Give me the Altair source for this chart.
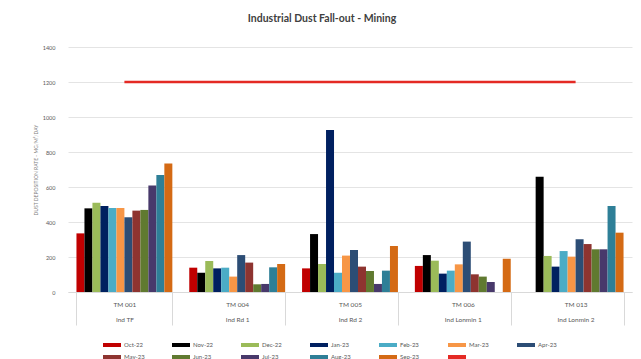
import altair as alt
import pandas as pd

sites = ["TM 001", "TM 004", "TM 005", "TM 006", "TM 013"]
areas = ["Ind TF", "Ind Rd 1", "Ind Rd 2", "Ind Lonmin 1", "Ind Lonmin 2"]
months = ["Oct-22", "Nov-22", "Dec-22", "Jan-23", "Feb-23", "Mar-23",
          "Apr-23", "May-23", "Jun-23", "Jul-23", "Aug-23", "Sep-23"]
colors = ["#C00000", "#000000", "#9BBB59", "#002060", "#4BACC6", "#F79646",
          "#2C4D75", "#8E3430", "#607A30", "#48396B", "#2E7F97", "#D46A14"]

oct_22 = [335, 139, 135, 149, None]
nov_22 = [478, 110, 331, 211, 659]
dec_22 = [510, 177, 160, 179, 206]
jan_23 = [491, 135, 926, 105, 145]
feb_23 = [480, 139, 110, 122, 234]
mar_23 = [480, 88, 208, 158, 202]
apr_23 = [427, 211, 240, 288, 301]
may_23 = [465, 168, 145, 101, 274]
jun_23 = [469, 44, 120, 88, 244]
jul_23 = [608, 46, 46, 57, 244]
aug_23 = [669, 141, 122, None, 491]
sep_23 = [735, 160, 263, 190, 339]

limit = [1200, 1200, 1200, 1200, 1200]
limit_label = " "
limit_color = "#E42A24"

series = [oct_22, nov_22, dec_22, jan_23, feb_23, mar_23,
          apr_23, may_23, jun_23, jul_23, aug_23, sep_23]

cats = [s + "|" + a for s, a in zip(sites, areas)]

rows = []
for m, vals in zip(months, series):
    for c, v in zip(cats, vals):
        if v is not None:
            rows.append({"cat": c, "month": m, "value": v})
bars_df = pd.DataFrame(rows)
line_df = pd.DataFrame({"cat": cats, "month": [limit_label] * len(cats), "value": limit})

FONT = "Lato"

x_enc = alt.X(
    "cat:N", sort=cats,
    scale=alt.Scale(paddingInner=0.15, paddingOuter=0.075),
    axis=alt.Axis(
        title=None, labelExpr="split(datum.label, '|')", labelAngle=0,
        tickBand="extent", tickSize=33, tickColor="#D9D9D9", tickWidth=1,
        domainColor="#D9D9D9", labelPadding=-24, labelBaseline="top",
        labelLineHeight=15, labelFontSize=6.5, labelColor="#595959", labelFont=FONT,
    ),
)
y_enc = alt.Y(
    "value:Q",
    scale=alt.Scale(domain=[0, 1400], nice=False),
    axis=alt.Axis(
        values=[0, 200, 400, 600, 800, 1000, 1200, 1400], format="d",
        title="DUST DEPOSITION RATE - MG/M²/DAY", titleFontSize=5,
        titleFontWeight="normal", titleColor="#7F7F7F", titleFont=FONT,
        labelFontSize=5.5, labelColor="#595959", labelFont=FONT,
        ticks=False, domain=False, gridColor="#DDDDDD", gridWidth=0.8,
        labelPadding=13, titlePadding=4,
    ),
)
color_enc = alt.Color(
    "month:N",
    scale=alt.Scale(domain=months + [limit_label], range=colors + [limit_color]),
    legend=alt.Legend(
        title=None, orient="none", legendX=35, legendY=289, columns=7,
        direction="horizontal",
        symbolType="M-1,-0.22H1V0.22H-1Z", symbolSize=324, symbolStrokeWidth=0,
        labelFontSize=6, labelColor="#595959", labelFont=FONT,
        columnPadding=27, rowPadding=-11, gridAlign="all", padding=0,
        labelOffset=3,
    ),
)

bars = alt.Chart(bars_df).mark_bar().encode(
    x=x_enc,
    xOffset=alt.XOffset("month:N", sort=months,
                        scale=alt.Scale(domain=months, paddingInner=0, paddingOuter=0)),
    y=y_enc,
    color=color_enc,
)

line = alt.Chart(line_df).mark_line(strokeWidth=2.5).encode(
    x=x_enc, y=y_enc, color=color_enc,
)

chart = alt.layer(bars, line).properties(
    width=564, height=245,
    autosize=alt.AutoSizeParams(type="none"),
    padding={"left": 60, "top": 39, "right": 1, "bottom": 70},
    title=alt.Title("Industrial Dust Fall-out - Mining", fontSize=10.5, fontWeight="bold",
                    color="#404040", font=FONT, anchor="middle", frame="group",
                    dx=-28, offset=21),
).configure_view(stroke=None)

chart.save("out.html", embed_options={"renderer": "svg", "actions": False})
